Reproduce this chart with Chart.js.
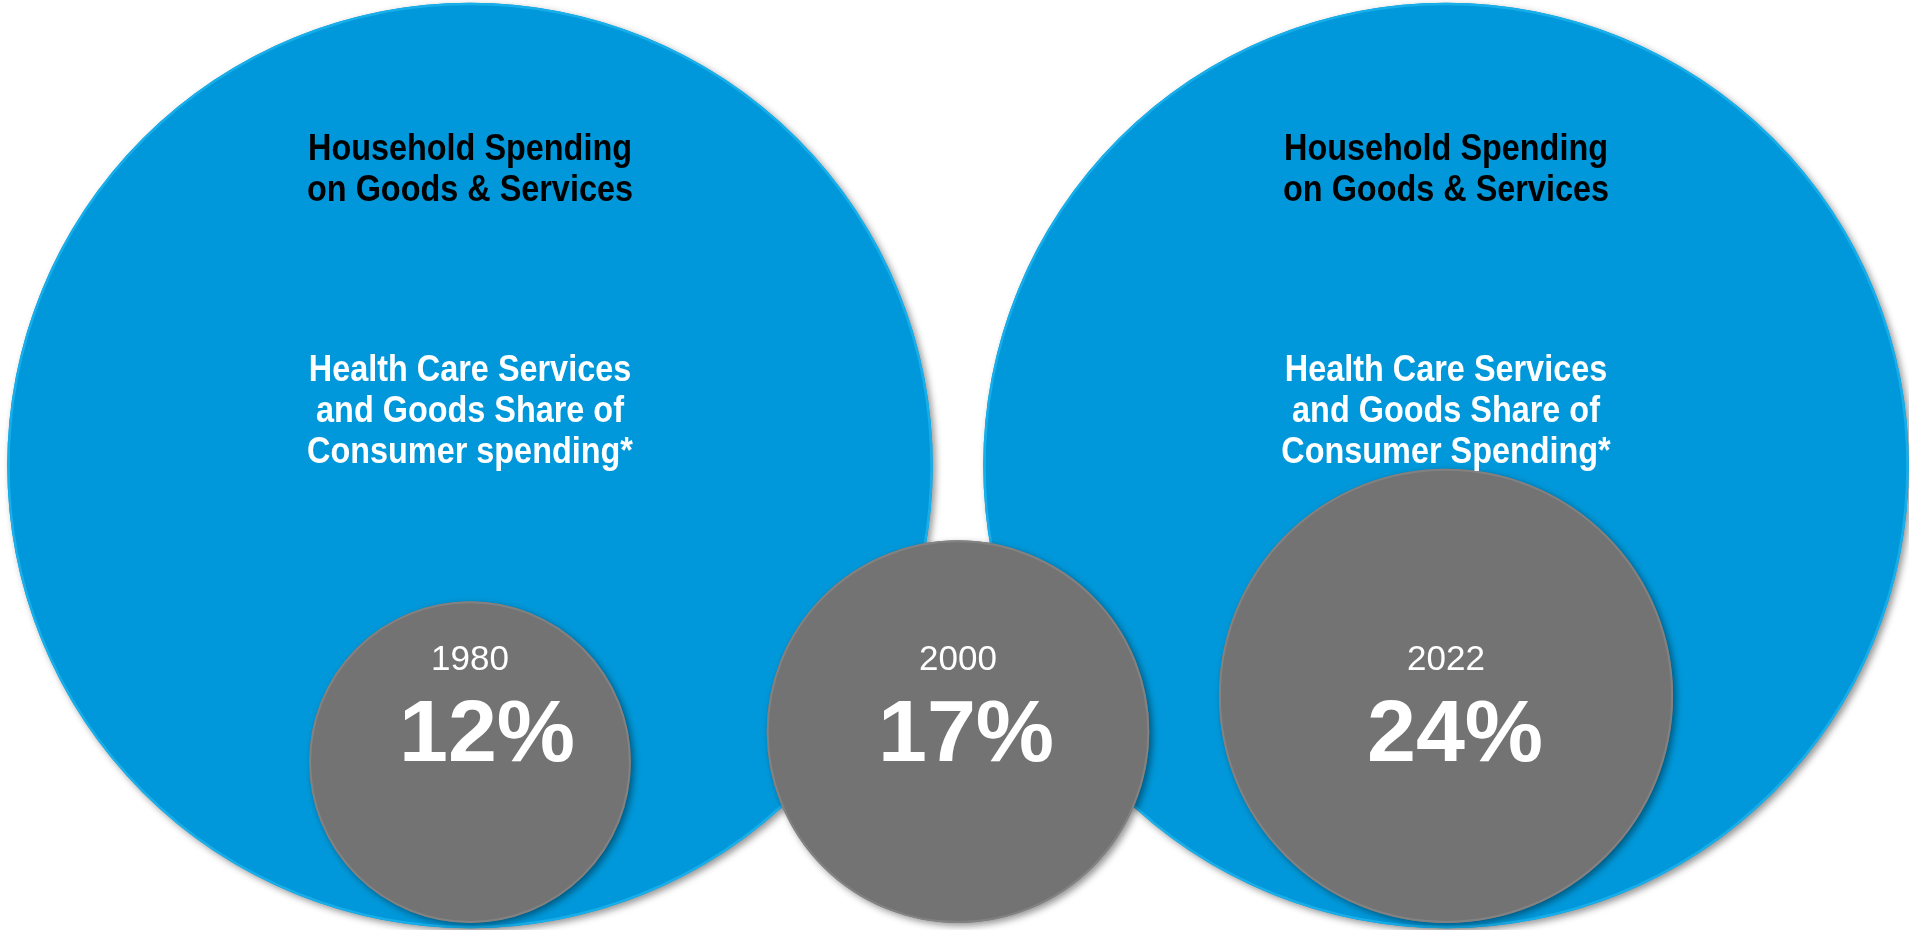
<!DOCTYPE html>
<html>
<head>
<meta charset="utf-8">
<script src="https://cdn.jsdelivr.net/npm/chart.js@4"></script>
<style>
  html, body { margin: 0; padding: 0; background: #ffffff; overflow: hidden; }
  canvas { display: block; }
</style>
</head>
<body>
<canvas id="chart" width="1909" height="930"></canvas>
<script>
// Years on the horizontal axis
const years = ['1980', '2000', '2022'];
// Health care services and goods, share of consumer spending (%)
const healthShare = [12, 17, 24];
// Years drawn with a full household-spending circle (= 100% of spending)
const householdYears = ['1980', '2022'];
const householdShare = [100, 100];
// Text printed inside the household circles
const householdTitle = ['Household Spending', 'on Goods & Services'];
const shareCaption = [
  ['Health Care Services', 'and Goods Share of', 'Consumer spending*'],
  ['Health Care Services', 'and Goods Share of', 'Consumer Spending*']
];

// Styling
const BLUE = '#0098DA';
const BLUE_EDGE = '#17AEE9';
const GREY = '#737373';
const GREY_EDGE = '#828282';
const SANS = '"Liberation Sans", Arial, Helvetica, sans-serif';
const SMALL_LIFT = 0.011;          // small discs sit just above the common baseline
const PCT_NUDGE = [17, 8, 9];      // horizontal nudge of the percentage labels

// Each disc stands on the baseline y = 0; its centre is one radius up.
// Radii are in y-scale units: a 100% circle has radius 1, area grows with the share.
const householdData = householdYears.map((yr, i) => ({
  x: yr, y: Math.sqrt(householdShare[i] / 100), share: householdShare[i]
}));
const healthData = years.map((yr, i) => ({
  x: yr, y: Math.sqrt(healthShare[i] / 100) + SMALL_LIFT, share: healthShare[i]
}));

// Soft drop shadow under each disc, painted before the disc itself
const discShadow = {
  id: 'discShadow',
  beforeDatasetDraw(chart, args) {
    const ctx = chart.ctx;
    args.meta.data.forEach(el => {
      const o = el.options;
      if (!(o.radius > 0)) return;
      ctx.save();
      ctx.shadowColor = 'rgba(0,0,0,0.42)';
      ctx.shadowBlur = 7;
      ctx.shadowOffsetX = 3;
      ctx.shadowOffsetY = 3;
      ctx.fillStyle = o.backgroundColor;
      ctx.beginPath();
      ctx.arc(el.x, el.y, o.radius + o.borderWidth / 2, 0, Math.PI * 2);
      ctx.fill();
      ctx.restore();
    });
  }
};

function narrowText(ctx, text, x, y, font, color, sx) {
  ctx.save();
  ctx.font = font;
  ctx.fillStyle = color;
  ctx.textAlign = 'center';
  ctx.textBaseline = 'alphabetic';
  ctx.translate(x, y);
  ctx.scale(sx, 1);
  ctx.fillText(text, 0, 0);
  ctx.restore();
}

// Captions, years and percentages
const discText = {
  id: 'discText',
  afterDatasetsDraw(chart) {
    const ctx = chart.ctx;
    const cy = chart.scales.y.getPixelForValue(1);   // centre line of the big circles
    const bigMeta = chart.getDatasetMeta(0);
    const smallMeta = chart.getDatasetMeta(1);

    bigMeta.data.forEach((el, i) => {
      householdTitle.forEach((line, k) => {
        narrowText(ctx, line, el.x, cy - 306 + k * 41.5, 'bold 36px ' + SANS, '#000000', 0.9);
      });
      shareCaption[i].forEach((line, k) => {
        narrowText(ctx, line, el.x, cy - 85 + k * 41, 'bold 36px ' + SANS, '#ffffff', 0.9);
      });
    });

    smallMeta.data.forEach((el, i) => {
      narrowText(ctx, years[i], el.x, cy + 204.5, '35px ' + SANS, '#ffffff', 1);
      narrowText(ctx, healthShare[i] + '%', el.x + PCT_NUDGE[i], cy + 295.5, 'bold 88px ' + SANS, '#ffffff', 1);
    });
  }
};

const chart = new Chart(document.getElementById('chart'), {
  type: 'bubble',
  data: {
    labels: years,
    datasets: [
      {
        label: 'Household Spending on Goods & Services',
        data: householdData,
        backgroundColor: BLUE,
        borderColor: BLUE_EDGE,
        borderWidth: 2.5,
        clip: false,
        order: 2
      },
      {
        label: 'Health Care Services and Goods Share of Consumer Spending',
        data: healthData,
        backgroundColor: GREY,
        borderColor: GREY_EDGE,
        borderWidth: 2,
        clip: false,
        order: 1
      }
    ]
  },
  options: {
    responsive: false,
    animation: false,
    events: [],
    layout: {
      autoPadding: false,
      padding: { left: 470, right: 463, top: 4, bottom: 3 }
    },
    scales: {
      x: { type: 'category', display: false, offset: false },
      y: { type: 'linear', display: false, min: 0, max: 2 }
    },
    plugins: {
      legend: { display: false },
      tooltip: { enabled: false }
    }
  },
  plugins: [discShadow, discText]
});

// Bubble radii are in pixels: convert each share to a radius with the
// y scale's pixel length for one unit, then redraw.
const ys = chart.scales.y;
const unitPx = Math.abs(ys.getPixelForValue(0) - ys.getPixelForValue(1));
householdData.forEach(d => { d.r = unitPx * Math.sqrt(d.share / 100); });
healthData.forEach(d => { d.r = unitPx * Math.sqrt(d.share / 100); });
chart.update();
</script>
</body>
</html>
